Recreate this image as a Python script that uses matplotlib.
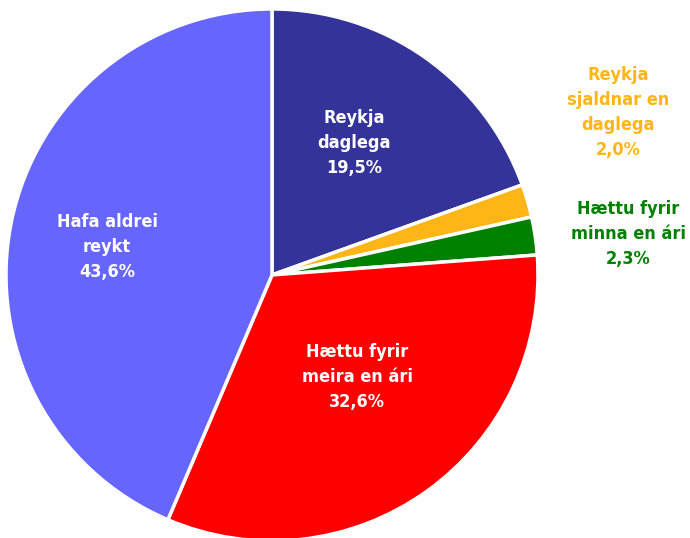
import matplotlib
matplotlib.use("Agg")
import matplotlib.pyplot as plt

labels = ["Reykja\ndaglega", "Reykja\nsjaldnar en\ndaglega", "Hættu fyrir\nminna en ári",
          "Hættu fyrir\nmeira en ári", "Hafa aldrei\nreykt"]
values = [19.5, 2.0, 2.3, 32.6, 43.6]
colors = ["#333399", "#FFB515", "#008000", "#FF0000", "#6666FF"]
text_colors = ["white", "#FFB515", "#008000", "white", "white"]
# label anchor points in pie data units (radius 1)
label_pos = [(0.31, 0.495), (1.30, 0.61), (1.34, 0.155), (0.32, -0.385), (-0.62, 0.105)]

plt.rcParams['font.family'] = ['DejaVu Sans']
plt.rcParams['font.stretch'] = 'condensed'

fig = plt.figure(figsize=(6.9, 5.38), dpi=100)
ax = fig.add_axes([0.0087, -0.0056, 0.771, 0.989])
ax.pie(values, colors=colors, startangle=90, counterclock=False, radius=1,
       wedgeprops=dict(edgecolor="white", linewidth=2.5))
ax.set_xlim(-1, 1)
ax.set_ylim(-1, 1)
ax.set_aspect("equal")
ax.axis("off")

for lab, v, c, (x, y) in zip(labels, values, text_colors, label_pos):
    txt = f"{lab}\n{v:.1f}%".replace(".", ",")
    ax.text(x, y, txt, ha="center", va="center", color=c, fontsize=13,
            fontweight="bold", fontstretch="condensed", linespacing=1.5, clip_on=False)

fig.savefig("out.png", dpi=100)
